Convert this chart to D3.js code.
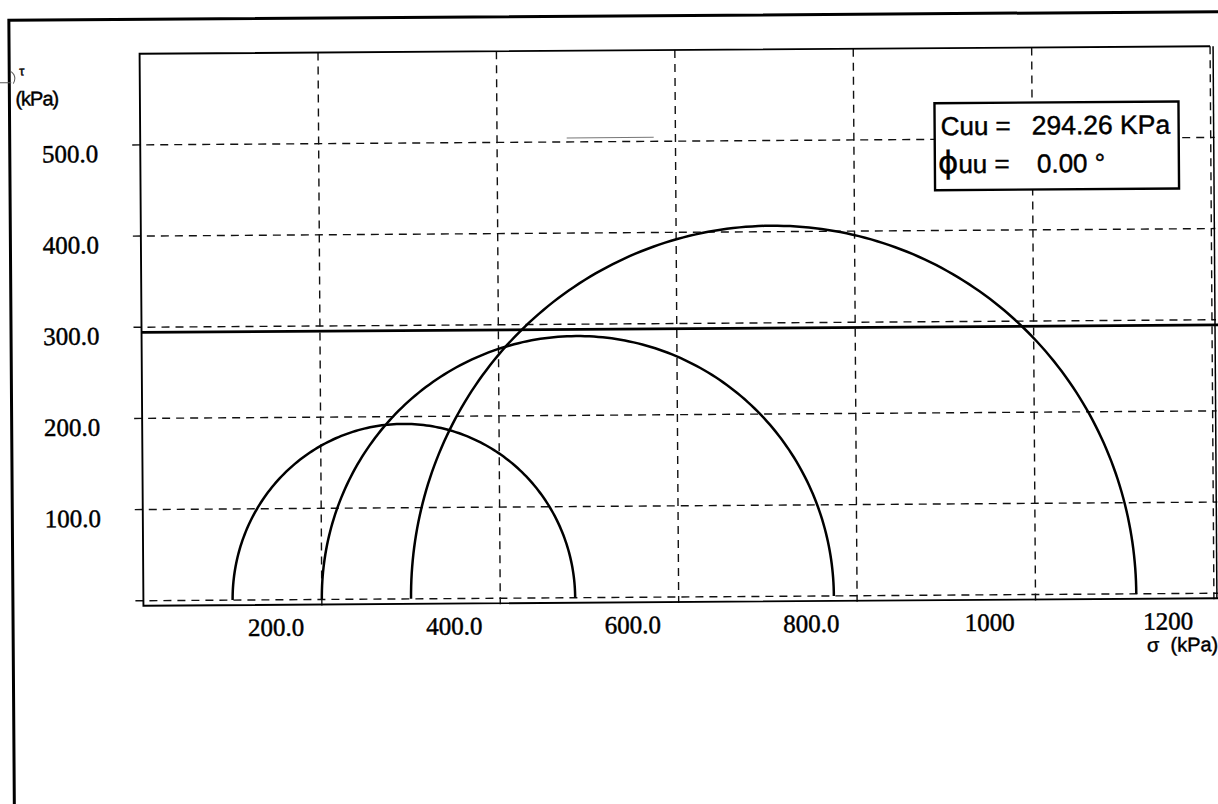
<!DOCTYPE html>
<html>
<head>
    <meta charset="utf-8">
    <title>Mohr circles - UU test</title>
    <style type="text/css">
        body { margin: 0; background: #fff; }
        svg { display: block; }
        text { fill: #000; stroke: #000; stroke-width: 0.45px; }
    </style>
</head>
<body>

<script src="https://d3js.org/d3.v7.min.js"></script>
<script type="text/javascript">

    // test results (kPa)
    var sigma3 = [100, 200, 300],
        sigma1 = [484, 774, 1113];
    var cuu = 294.26,
        phiuu = 0.00;

    var xTicks  = [200, 400, 600, 800, 1000, 1200],
        xLabels = ["200.0", "400.0", "600.0", "800.0", "1000", "1200"];
    var yTicks  = [100, 200, 300, 400, 500],
        yLabels = ["100.0", "200.0", "300.0", "400.0", "500.0"];

    var width = 1218, height = 804;

    var x = d3.scaleLinear().domain([0, 1200]).range([141.5, 1212]),
        y = d3.scaleLinear().domain([0, 600]).range([597, 50]);

    var svg = d3.select("body")
        .append("svg")
        .attr("width", width)
        .attr("height", height);

    svg.append("rect")
        .attr("width", width)
        .attr("height", height)
        .attr("fill", "#fff");

    // the scan is a little tilted
    var g = svg.append("g")
        .attr("transform", "rotate(-0.4, 677, 325)");

    // outer frame (only top and left are on the page)
    g.append("path")
        .attr("d", "M11," + (height + 10) + " V15.5 H" + (width + 10))
        .attr("fill", "none")
        .attr("stroke", "#000")
        .attr("stroke-width", 3);

    // grid
    var dash = "8,6";
    g.selectAll(".hgrid")
        .data([0].concat(yTicks))
        .enter().append("line")
        .attr("x1", x(0) - 8)
        .attr("x2", x(1200) + 4)
        .attr("y1", function(d){ return y(d); })
        .attr("y2", function(d){ return y(d); })
        .attr("stroke", "#111")
        .attr("stroke-width", 1.4)
        .attr("stroke-dasharray", dash);

    g.selectAll(".vgrid")
        .data(xTicks)
        .enter().append("line")
        .attr("x1", function(d){ return x(d); })
        .attr("x2", function(d){ return x(d); })
        .attr("y1", y(600))
        .attr("y2", y(0) + 6)
        .attr("stroke", "#111")
        .attr("stroke-width", 1.4)
        .attr("stroke-dasharray", dash);

    // stray line above the 500 grid line
    g.append("line")
        .attr("x1", 568).attr("x2", 655)
        .attr("y1", y(500) - 4).attr("y2", y(500) - 4)
        .attr("stroke", "#777")
        .attr("stroke-width", 1);

    // plot border
    g.append("path")
        .attr("d", "M" + x(1200) + "," + y(600) + " H" + x(0) +
                   " V" + (y(0) + 5) + " H" + (width + 10))
        .attr("fill", "none")
        .attr("stroke", "#000")
        .attr("stroke-width", 1.9);

    g.append("line")
        .attr("x1", x(1200) + 3).attr("x2", x(1200) + 3)
        .attr("y1", y(600)).attr("y2", y(0) + 5)
        .attr("stroke", "#000")
        .attr("stroke-width", 1.5);

    // Mohr circles
    var line = d3.line()
        .x(function(p){ return x(p[0]); })
        .y(function(p){ return y(p[1]); });

    var circles = sigma3.map(function(s3, i){
        var c = (s3 + sigma1[i]) / 2,
            r = (sigma1[i] - s3) / 2;
        return d3.range(0, 181, 1).map(function(a){
            var t = Math.PI - a * Math.PI / 180;
            return [c + r * Math.cos(t), r * Math.sin(t)];
        });
    });

    g.selectAll(".circle")
        .data(circles)
        .enter().append("path")
        .attr("d", line)
        .attr("fill", "none")
        .attr("stroke", "#000")
        .attr("stroke-width", 2.5);

    // failure envelope (phi = 0)
    g.append("line")
        .attr("x1", x(0))
        .attr("x2", width + 10)
        .attr("y1", y(cuu))
        .attr("y2", y(cuu + x.invert(width + 10) * Math.tan(phiuu * Math.PI / 180)))
        .attr("stroke", "#000")
        .attr("stroke-width", 2.8);

    // tick labels
    g.selectAll(".xlab")
        .data(xTicks)
        .enter().append("text")
        .attr("x", function(d){ return x(d) - 46; })
        .attr("y", y(0) + 36)
        .attr("text-anchor", "middle")
        .style("font-family", "Liberation Serif, Times New Roman, serif")
        .style("font-size", "25px")
        .text(function(d, i){ return xLabels[i]; });

    g.selectAll(".ylab")
        .data(yTicks)
        .enter().append("text")
        .attr("x", x(0) - 42)
        .attr("y", function(d){ return y(d) + 17; })
        .attr("text-anchor", "end")
        .style("font-family", "Liberation Serif, Times New Roman, serif")
        .style("font-size", "25px")
        .text(function(d, i){ return yLabels[i]; });

    // axis titles
    g.append("text")
        .attr("x", x(1200) + 4)
        .attr("y", y(0) + 58)
        .attr("text-anchor", "end")
        .style("font-family", "Liberation Sans, Arial, sans-serif")
        .style("font-size", "20px")
        .attr("xml:space", "preserve")
        .text("σ  (kPa)");

    g.append("text")
        .attr("x", 21)
        .attr("y", 71)
        .style("font-family", "Liberation Sans, Arial, sans-serif")
        .style("font-size", "13px")
        .text("τ");

    g.append("text")
        .attr("x", 17)
        .attr("y", 101)
        .style("font-family", "Liberation Sans, Arial, sans-serif")
        .style("font-size", "20px")
        .style("letter-spacing", "-1px")
        .text("(kPa)");

    // little mark on the left frame
    g.append("path")
        .attr("d", "M0,78 H13 M13,67 Q19,72 15,79")
        .attr("fill", "none")
        .attr("stroke", "#555")
        .attr("stroke-width", 1);

    // result box
    var box = g.append("g").attr("transform", "translate(936,105)");
    box.append("rect")
        .attr("width", 244)
        .attr("height", 87)
        .attr("fill", "#fff")
        .attr("stroke", "#000")
        .attr("stroke-width", 2.4);

    var fontBox = "Liberation Sans, Arial, sans-serif";
    box.append("text")
        .attr("x", 6).attr("y", 32)
        .style("font-family", fontBox).style("font-size", "26px")
        .text("Cuu =");
    box.append("text")
        .attr("x", 97).attr("y", 32)
        .style("font-family", fontBox).style("font-size", "26.5px")
        .text(d3.format(".2f")(cuu) + " KPa");
    var t2 = box.append("text")
        .attr("x", 3).attr("y", 70)
        .style("font-family", fontBox).style("font-size", "26px");
    t2.append("tspan")
        .style("font-family", "DejaVu Sans, sans-serif")
        .style("font-size", "31px")
        .text("ϕ");
    t2.append("tspan").text("uu =");
    box.append("text")
        .attr("x", 102).attr("y", 70)
        .style("font-family", fontBox).style("font-size", "26px")
        .text(d3.format(".2f")(phiuu) + " °");

</script>
</body>
</html>
